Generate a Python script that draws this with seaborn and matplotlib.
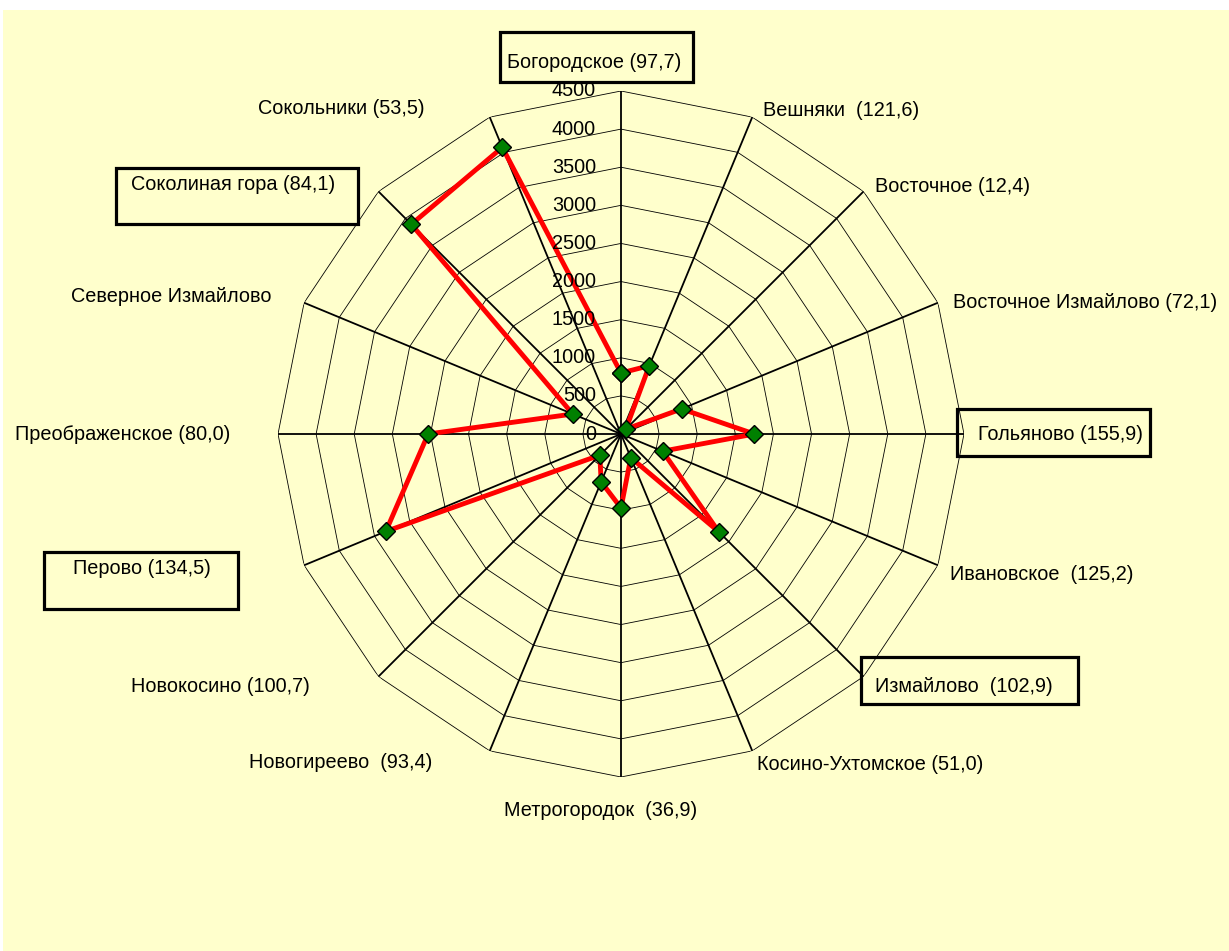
import numpy as np
import matplotlib
matplotlib.use("Agg")
import matplotlib.pyplot as plt
import seaborn as sns
import pandas as pd
from matplotlib.patches import Rectangle

# ---- data ----
categories = ["Богородское (97,7)", "Вешняки  (121,6)", "Восточное (12,4)",
              "Восточное Измайлово (72,1)", "Гольяново (155,9)", "Ивановское  (125,2)",
              "Измайлово  (102,9)", "Косино-Ухтомское (51,0)", "Метрогородок  (36,9)",
              "Новогиреево  (93,4)", "Новокосино (100,7)", "Перово (134,5)",
              "Преображенское (80,0)", "Северное Измайлово", "Соколиная гора (84,1)",
              "Сокольники (53,5)"]
values = [800, 970, 90, 860, 1750, 590, 1810, 336, 970, 680, 393, 3340, 2530, 685, 3890, 4070]
ring_levels = [0, 500, 1000, 1500, 2000, 2500, 3000, 3500, 4000, 4500]
tick_labels = [str(v) for v in ring_levels]
boxed = ["Богородское (97,7)", "Гольяново (155,9)", "Измайлово  (102,9)",
         "Перово (134,5)", "Соколиная гора (84,1)"]

# ---- layout (pixel positions of labels, styling only) ----
label_pos = {  # left x, center y (pixels from top-left)
    "Богородское (97,7)": (507, 62),
    "Вешняки  (121,6)": (763, 111),
    "Восточное (12,4)": (875, 186),
    "Восточное Измайлово (72,1)": (953, 302),
    "Гольяново (155,9)": (978, 435),
    "Ивановское  (125,2)": (950, 574),
    "Измайлово  (102,9)": (875, 686),
    "Косино-Ухтомское (51,0)": (757, 765),
    "Метрогородок  (36,9)": (504, 811),
    "Новогиреево  (93,4)": (249, 762),
    "Новокосино (100,7)": (131, 687),
    "Перово (134,5)": (73, 568),
    "Преображенское (80,0)": (15, 435),
    "Северное Измайлово": (71, 297),
    "Соколиная гора (84,1)": (131, 184),
    "Сокольники (53,5)": (258, 109),
}
box_rects = {  # x0, y0, x1, y1 in pixels from top-left
    "Богородское (97,7)": (500, 32, 693, 82),
    "Гольяново (155,9)": (957, 409, 1150, 456),
    "Измайлово  (102,9)": (861, 657, 1078, 704),
    "Перово (134,5)": (44, 552, 238, 609),
    "Соколиная гора (84,1)": (116, 168, 358, 224),
}

sns.set_theme(style="white")
plt.rcParams['font.family'] = ['Liberation Sans', 'DejaVu Sans']
FS = 14.3

W, H = 1229, 951
fig = plt.figure(figsize=(W / 100, H / 100), dpi=100, facecolor='white')
fig.patches.append(Rectangle((3 / W, 0), 1 - 3 / W, 1 - 10 / H, transform=fig.transFigure,
                             facecolor='#FFFFCC', edgecolor='none', zorder=-10))

cx, cy, R = 621, 434, 343
ax = fig.add_axes([(cx - R) / W, (H - cy - R) / H, 2 * R / W, 2 * R / H], projection='polar')
ax.set_facecolor('none')
ax.set_zorder(1)
ax.set_theta_zero_location('N')
ax.set_theta_direction(-1)
ax.grid(False)
ax.spines['polar'].set_visible(False)

n = len(categories)
theta = np.arange(n) * 2 * np.pi / n
closed_theta = np.append(theta, theta[0])

for lvl in ring_levels[1:]:
    ax.plot(closed_theta, [lvl] * (n + 1), color='black', lw=0.6, zorder=1)
for t in theta:
    ax.plot([t, t], [0, ring_levels[-1]], color='black', lw=1.3, zorder=2)

df = pd.DataFrame({'theta': closed_theta, 'value': values + [values[0]]})
sns.lineplot(data=df, x='theta', y='value', sort=False, estimator=None, ax=ax,
             color='#FF0000', lw=3.5, marker='D', markersize=9,
             markerfacecolor='#008000', markeredgecolor='black', markeredgewidth=1, zorder=3)
ax.set_xlabel('')
ax.set_ylabel('')
ax.set_xticks([])
ax.set_yticks([])
ax.set_ylim(0, ring_levels[-1])

for lvl, lab in zip(ring_levels, tick_labels):
    ax.annotate(lab, xy=(0, lvl), xytext=(-25, 0), textcoords='offset pixels',
                ha='right', va='center', fontsize=FS, color='black', zorder=4)

def fxy(x, y):
    return x / W, 1 - y / H

for cat in categories:
    x, y = label_pos[cat]
    fx, fy = fxy(x, y)
    fig.text(fx, fy, cat, ha='left', va='center', fontsize=FS, color='black', zorder=6)

for cat in boxed:
    x0, y0, x1, y1 = box_rects[cat]
    fig.patches.append(Rectangle((x0 / W, 1 - y1 / H), (x1 - x0) / W, (y1 - y0) / H,
                                 transform=fig.transFigure, facecolor='none',
                                 edgecolor='black', lw=2.3, zorder=5))

fig.savefig('out.png', dpi=100, facecolor='white')
